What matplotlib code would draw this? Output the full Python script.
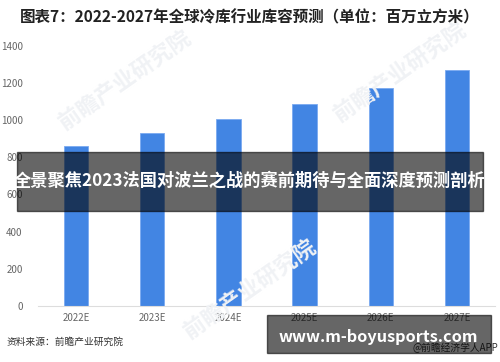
import matplotlib.pyplot as plt

plt.rcParams['font.family'] = ['Noto Sans CJK SC', 'DejaVu Sans']

# 数据
years = ['2022E', '2023E', '2024E', '2025E', '2026E', '2027E']
capacity = [860, 930, 1003, 1084, 1173, 1267]
y_ticks = [0, 200, 400, 600, 800, 1000, 1200, 1400]

title = '图表7：2022-2027年全球冷库行业库容预测（单位：百万立方米）'
source = '资料来源：前瞻产业研究院'
banner = '全景聚焦2023法国对波兰之战的赛前期待与全面深度预测剖析'
site = 'www.m-boyusports.com'

fig = plt.figure(figsize=(5.0, 3.62), dpi=100)
ax = fig.add_axes([0.076, 0.1547, 0.914, 0.7196])

ax.bar(range(len(years)), capacity, width=0.32, color='#4285e3',
       edgecolor='#7aaaf0', linewidth=0.6, zorder=2)
ax.set_xlim(-0.5, len(years) - 0.5)
ax.set_ylim(0, 1400)
ax.set_yticks(y_ticks)
ax.set_xticks(range(len(years)))
ax.set_xticklabels(years)
ax.tick_params(axis='both', length=0, labelsize=7, colors='#666666')
ax.tick_params(axis='y', pad=11)
ax.tick_params(axis='x', pad=5)
for s in ['top', 'right', 'left']:
    ax.spines[s].set_visible(False)
ax.spines['bottom'].set_color('#dddddd')
ax.spines['bottom'].set_linewidth(0.8)

# 水印
for wx, wy in [(0.25, 0.78), (0.8, 0.8), (0.5, 0.2)]:
    fig.text(wx, wy, '前瞻产业研究院', fontsize=16, fontweight='bold', color='#f0f2f5',
             rotation=35, ha='center', va='center', zorder=0)

fig.text(0.5, 0.953, title, fontsize=11.2, fontweight='bold', color='#222222',
         ha='center', va='center')
fig.text(0.014, 0.055, source, fontsize=7, color='#333333', ha='left', va='center')
fig.text(0.996, 0.04, '@前瞻经济学人APP', fontsize=7, color='#333333',
         ha='right', va='center')

# 遮挡条
fig.patches.append(plt.Rectangle((0.034, 1 - 211 / 362), 0.932, 59 / 362,
                                 transform=fig.transFigure, color='black', alpha=0.6, zorder=5))
fig.text(0.5, 1 - 181 / 362, banner, fontsize=12.4, fontweight='bold', color='white',
         ha='center', va='center', zorder=6)
fig.patches.append(plt.Rectangle((0.534, 1 - 353 / 362), 0.448, 38 / 362,
                                 transform=fig.transFigure, color='black', alpha=0.6, zorder=5))
fig.text(0.756, 1 - 337 / 362, site, fontsize=11.7, fontweight='bold', color='white',
         ha='center', va='center', zorder=6)

fig.savefig('out.png', dpi=100)
